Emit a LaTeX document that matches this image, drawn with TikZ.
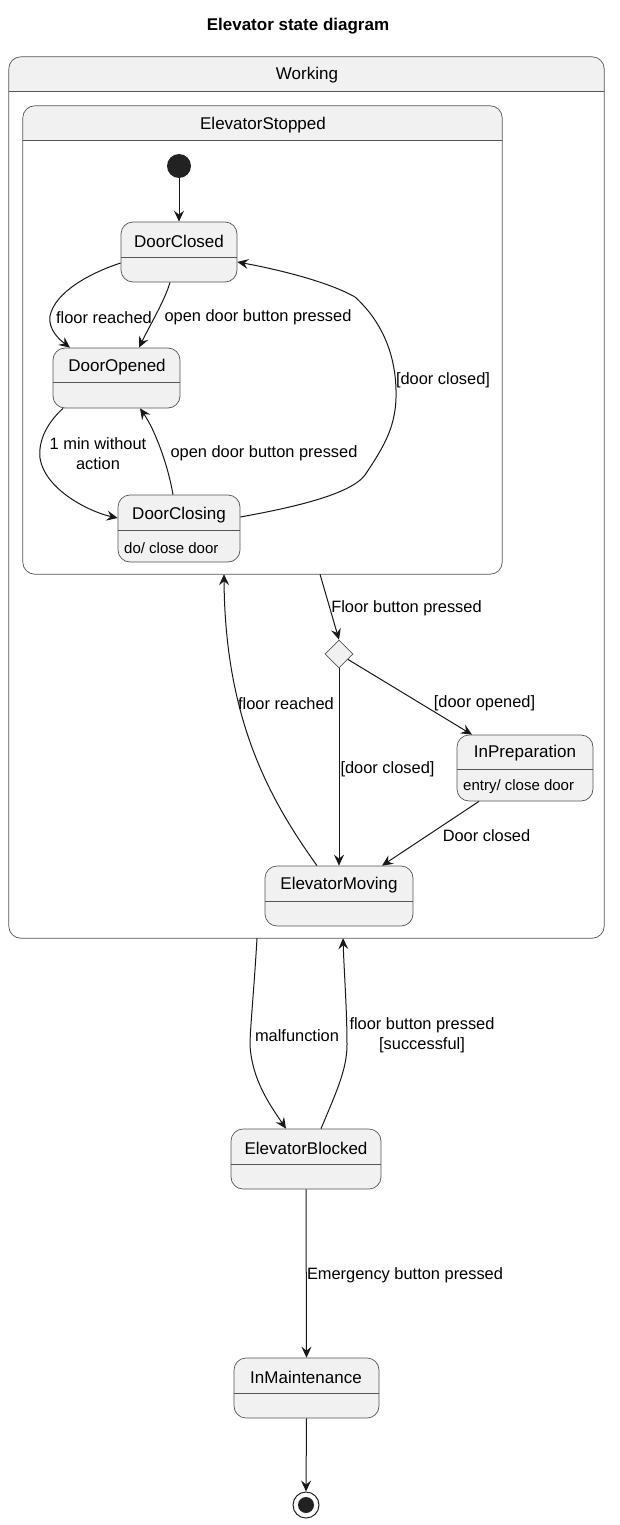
\documentclass[tikz,border=0pt]{standalone}
\usepackage{fontspec}
\setmainfont{Liberation Sans}
\usetikzlibrary{arrows.meta,shapes.geometric}
\definecolor{sfill}{HTML}{F1F1F1}
\definecolor{sline}{HTML}{181818}
\definecolor{bline}{HTML}{555555}
\definecolor{dotc}{HTML}{222222}
\tikzset{
  sbox/.style={draw=bline, fill=sfill, rounded corners=12pt, line width=0.7pt, inner sep=0pt},
  cbox/.style={fill=white, inner sep=0pt},
  boxline/.style={draw=bline, line width=0.7pt},
  stitle/.style={font=\fontsize{17}{20}\selectfont, inner sep=0pt, yshift=-1.5pt},
  sbody/.style={font=\fontsize{15}{18}\selectfont, inner sep=0pt, anchor=west, yshift=-1pt},
  elabel/.style={font=\fontsize{16.4}{20}\selectfont, inner sep=0pt, align=center, yshift=-1.5pt},
  tr/.style={draw=sline, line width=1pt, -{Stealth[length=11pt,width=10pt,inset=4pt]}},
  choice/.style={diamond, draw=bline, fill=sfill, line width=0.7pt, minimum width=28pt, minimum height=28pt, inner sep=0pt, aspect=1},
  startdot/.style={circle, fill=dotc, minimum size=24pt, inner sep=0pt},
  enddot/.style={circle, draw=dotc, fill=white, line width=1pt, minimum size=26pt, inner sep=0pt}
}
\begin{document}
\begin{tikzpicture}[x=1pt,y=-1pt]
\useasboundingbox (0,0) rectangle (620,1525);
\fill[white] (0,0) rectangle (620,1525);
% title
\node[font=\bfseries\fontsize{17}{20}\selectfont, inner sep=0pt, yshift=-2pt] (title) at (298,24) {Elevator state diagram};

% Working composite
\node[cbox, minimum width=595pt, minimum height=881pt] (W) at (306.5,497.5) {};
\begin{scope}
\clip[rounded corners=12pt] (W.north west) rectangle (W.south east);
\fill[sfill] (W.north west) rectangle (604,91);
\end{scope}
\draw[boxline, rounded corners=12pt] (W.north west) rectangle (W.south east);
\draw[boxline] (W.west |- 0,91) -- (W.east |- 0,91);
\node[stitle] (Wt) at (307,74) {Working};

% ElevatorStopped composite
\node[cbox, minimum width=479pt, minimum height=468pt] (ES) at (262.5,340) {};
\begin{scope}
\clip[rounded corners=12pt] (ES.north west) rectangle (ES.south east);
\fill[sfill] (ES.north west) rectangle (502,140);
\end{scope}
\draw[boxline, rounded corners=12pt] (ES.north west) rectangle (ES.south east);
\draw[boxline] (ES.west |- 0,140) -- (ES.east |- 0,140);
\node[stitle] (ESt) at (263,124) {ElevatorStopped};

% initial
\node[startdot] (init) at (179,166) {};

% DoorClosed
\node[sbox, minimum width=116pt, minimum height=60pt] (DC) at (179,252) {};
\draw[boxline] (DC.west |- 0,257) -- (DC.east |- 0,257);
\node[stitle] (DCt) at (179,240) {DoorClosed};

% DoorOpened
\node[sbox, minimum width=127pt, minimum height=60pt] (DO) at (116.5,378) {};
\draw[boxline] (DO.west |- 0,382) -- (DO.east |- 0,382);
\node[stitle] (DOt) at (117,366) {DoorOpened};

% DoorClosing
\node[sbox, minimum width=122pt, minimum height=67pt] (DCl) at (179,528.5) {};
\draw[boxline] (DCl.west |- 0,530) -- (DCl.east |- 0,530);
\node[stitle] (DClt) at (179,514) {DoorClosing};
\node[sbody] (DClb) at (124,547) {do/ close door};

% choice
\node[choice] (D) at (339,654) {};

% InPreparation
\node[sbox, minimum width=136pt, minimum height=66pt] (IP) at (525,768) {};
\draw[boxline] (IP.west |- 0,769) -- (IP.east |- 0,769);
\node[stitle] (IPt) at (525,752) {InPreparation};
\node[sbody] (IPb) at (463,786) {entry/ close door};

% ElevatorMoving
\node[sbox, minimum width=148pt, minimum height=60pt] (EM) at (339,896) {};
\draw[boxline] (EM.west |- 0,901) -- (EM.east |- 0,901);
\node[stitle] (EMt) at (339,884) {ElevatorMoving};

% ElevatorBlocked
\node[sbox, minimum width=150pt, minimum height=60pt] (EB) at (306,1159) {};
\draw[boxline] (EB.west |- 0,1164) -- (EB.east |- 0,1164);
\node[stitle] (EBt) at (306,1147) {ElevatorBlocked};

% InMaintenance
\node[sbox, minimum width=145pt, minimum height=60pt] (IM) at (306.5,1388) {};
\draw[boxline] (IM.west |- 0,1393) -- (IM.east |- 0,1393);
\node[stitle] (IMt) at (306,1376) {InMaintenance};

% final
\node[enddot] (fin) at (306,1505) {};
\fill[dotc] (fin.center) circle (8pt);

% transitions
\draw[tr] (init) -- (DC.north);

\draw[tr] (DC.west |- 0,263) .. controls (90,273) and (55,292) .. (50,316)
  .. controls (48,330) and (60,340) .. (DO.north -| 70,0);
\node[elabel] (l1) at (104,316) {floor reached};

\draw[tr] (DC.south -| 170,0) .. controls (165,300) and (150,325) .. (DO.north -| 139,0);
\node[elabel] (l2) at (258,316) {open door button pressed};

\draw[tr] (DO.south -| 63,0) .. controls (48,422) and (38,440) .. (40,458)
  .. controls (45,490) and (90,512) .. (DCl.west |- 0,518);
\node[elabel] (l3) at (98,452.5) {1 min without\\{}action};

\draw[tr] (DCl.north -| 173,0) .. controls (168,465) and (155,430) .. (DO.south -| 140,0);
\node[elabel] (l4) at (264,452) {open door button pressed};

\draw[tr] (DCl.east |- 0,517) .. controls (290,508) and (350,495) .. (365,475)
  .. controls (385,445) and (397,425) .. (396,390)
  .. controls (395,345) and (375,315) .. (355,297)
  .. controls (325,280) and (270,268) .. (DC.east |- 0,262);
\node[elabel] (l5) at (443,379) {[door closed]};

\draw[tr] (ES.south -| 320,0) -- (D.north);
\node[elabel] (l6) at (406.5,607) {Floor button pressed};

\draw[tr] (D) -- (IP.north -| 472,0);
\node[elabel] (l7) at (484.5,702) {[door opened]};

\draw[tr] (D.south) -- (EM.north);
\node[elabel] (l8) at (387.5,768) {[door closed]};

\draw[tr] (IP.south -| 479,0) -- (EM.north -| 382,0);
\node[elabel] (l9) at (486.5,834) {Door closed};

\draw[tr] (EM.north -| 317,0) .. controls (270,800) and (225,720) .. (ES.south -| 224,0);
\node[elabel] (l10) at (286,702) {floor reached};

\draw[tr] (W.south -| 257,0) .. controls (254,990) and (250,1030) .. (250,1045)
  .. controls (252,1080) and (270,1105) .. (EB.north -| 286,0);
\node[elabel] (l11) at (297,1034) {malfunction};

\draw[tr] (EB.north -| 321,0) .. controls (335,1095) and (347,1070) .. (347,1045)
  .. controls (347,1010) and (344,970) .. (W.south -| 343,0);
\node[elabel] (l12) at (422,1034) {floor button pressed\\{}[successful]};

\draw[tr] (EB.south) -- (IM.north);
\node[elabel] (l13) at (405,1274) {Emergency button pressed};

\draw[tr] (IM.south) -- (fin.north);
\end{tikzpicture}
\end{document}
